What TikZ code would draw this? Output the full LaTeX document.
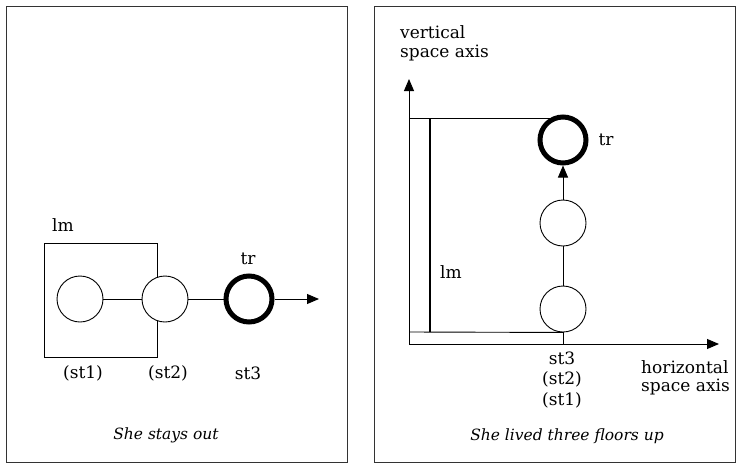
\documentclass[tikz,border=0pt]{standalone}
\usepackage{fontspec}
\setmainfont{DejaVu Serif}
\usetikzlibrary{arrows.meta}
\begin{document}
\begin{tikzpicture}[x=1pt,y=-1pt,
  frame/.style={draw=black!80,line width=1pt},
  st/.style={circle,draw,line width=0.9pt,minimum size=46pt,inner sep=0pt,fill=white},
  trc/.style={circle,draw,line width=5pt,minimum size=46pt,inner sep=0pt,fill=white},
  thin/.style={line width=0.9pt},
  arr/.style={line width=0.9pt,-{Triangle[length=12pt,width=10pt]}},
  lab/.style={font=\fontsize{17}{20}\selectfont,inner sep=0pt},
  captxt/.style={font=\fontsize{15.5}{19}\selectfont\itshape,inner sep=0pt}]
\useasboundingbox (0,0) rectangle (737,464);
% ---------- left panel ----------
\draw[frame] (6,6) rectangle (347,462);
\draw[thin] (44,243) rectangle (157,357);
\node[lab] (lmL) at (63,225) {lm};
\node[st] (a1) at (80,299) {};
\node[st] (a2) at (165,299) {};
\node[trc] (a3) at (249,299) {};
\coordinate (aend) at (319,299);
\draw[thin] (a1) -- (a2);
\draw[thin] (a2) -- (a3);
\draw[arr] (a3) -- (aend);
\node[lab] (trL) at (248,259) {tr};
\node[lab] (s1L) at (83,373) {(st1)};
\node[lab] (s2L) at (168,373) {(st2)};
\node[lab] (s3L) at (248,373) {st3};
\node[captxt] (capL) at (166,435) {She stays out};
% ---------- right panel ----------
\draw[frame] (374,6) rectangle (735.5,462);
\coordinate (O) at (409,344);
\coordinate (ytop) at (409,79);
\coordinate (xend) at (719,344);
\draw[arr] (O) -- (ytop);
\draw[arr] (O) -- (xend);
\node[trc] (b3) at (563,140) {};
\node[st] (b2) at (563,223) {};
\node[st] (b1) at (563,309) {};
\coordinate (bl) at (409,332);
\coordinate (tl) at (409,118);
\draw[thin] (tl) -- (551,118);
\draw[thin] (bl) -- (b1.south);
\draw[thin] (b1.south) -- (O -| b1);
\draw[line width=2.6pt] (430,118) -- (430,332);
\draw[thin] (b1) -- (b2);
\draw[arr] (b2) -- (b3);
\node[lab] (lmR) at (451,272) {lm};
\node[lab] (trR) at (606,140) {tr};
\node[lab,anchor=west] (vax1) at (400,32) {vertical};
\node[lab,anchor=west] (vax2) at (400,53) {space axis};
\node[lab,anchor=west] (hax1) at (641,367) {horizontal};
\node[lab,anchor=west] (hax2) at (641,387) {space axis};
\node[lab] (r3) at (562,358) {st3};
\node[lab] (r2) at (562,379) {(st2)};
\node[lab] (r1) at (562,400) {(st1)};
\node[captxt] (capR) at (567,436) {She lived three floors up};
\end{tikzpicture}
\end{document}
